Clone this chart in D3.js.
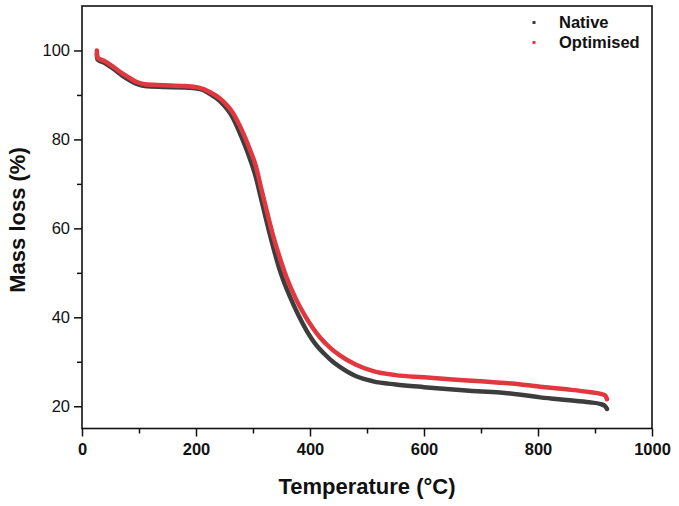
<!DOCTYPE html>
<html>
<head>
<meta charset="utf-8">
<script src="https://cdn.jsdelivr.net/npm/d3@7"></script>
<style>
  html, body { margin: 0; padding: 0; background: #fff; }
  svg { display: block; font-family: "Liberation Sans", Arial, sans-serif; }
</style>
</head>
<body>
<svg id="chart" width="679" height="506"></svg>
<script>
// ---- data ----
const seriesNames = ["Native", "Optimised"];
const seriesColors = ["#3d3d3d", "#e0383e"];

const nativeTemp = [26, 27, 40, 55, 70, 85, 96, 110, 142, 180, 207, 225, 242, 265, 280, 295, 305, 314, 324, 335, 347, 353, 365, 380, 395, 410, 425, 440, 453, 480, 511, 550, 600, 628, 680, 733, 770, 804, 850, 890, 910, 918, 921];
const nativeMass = [99.2, 98.0, 97.2, 95.9, 94.4, 93.2, 92.5, 92.0, 91.8, 91.7, 91.3, 90.2, 88.6, 84.8, 80.5, 75.5, 71.5, 66.8, 61.5, 56.0, 50.6, 48.4, 44.6, 40.4, 36.8, 33.9, 31.8, 30.0, 28.8, 26.8, 25.6, 24.9, 24.3, 24.0, 23.5, 23.1, 22.6, 22.0, 21.4, 20.9, 20.5, 20.0, 19.4];

const optTemp = [26, 27, 40, 55, 70, 85, 96, 110, 142, 180, 207, 225, 242, 265, 280, 295, 305, 314, 324, 335, 347, 360, 375, 390, 405, 418, 435, 453, 480, 511, 550, 600, 650, 700, 733, 770, 804, 850, 890, 910, 918, 921];
const optMass = [100.0, 98.4, 97.6, 96.3, 94.9, 93.7, 92.9, 92.4, 92.2, 92.0, 91.6, 90.6, 89.2, 85.9, 82.2, 77.6, 74.0, 69.2, 64.0, 58.5, 53.4, 48.6, 44.2, 40.6, 37.6, 35.4, 33.2, 31.4, 29.4, 27.9, 27.0, 26.5, 26.0, 25.6, 25.3, 24.9, 24.4, 23.8, 23.2, 22.8, 22.4, 21.6];

const xMajorTicks = [0, 200, 400, 600, 800, 1000];
const xMinorTicks = [100, 300, 500, 700, 900];
const yMajorTicks = [20, 40, 60, 80, 100];
const yMinorTicks = [30, 50, 70, 90];

const xTitle = "Temperature (°C)";
const yTitle = "Mass loss (%)";

// ---- layout ----
const svg = d3.select("#chart");
const L = 82, R = 652, T = 6, B = 428.5;

const x = d3.scaleLinear().domain([0, 1000]).range([L, R]);
const y = d3.scaleLinear().domain([15, 110]).range([B, T]);

const series = [
  { name: seriesNames[0], color: seriesColors[0], data: nativeTemp.map((t, i) => [t, nativeMass[i]]) },
  { name: seriesNames[1], color: seriesColors[1], data: optTemp.map((t, i) => [t, optMass[i]]) }
];

const line = d3.line()
  .x(d => x(d[0]))
  .y(d => y(d[1]))
  .curve(d3.curveMonotoneX);

const plot = svg.append("g");
series.forEach(s => {
  plot.append("path")
    .datum(s.data)
    .attr("fill", "none")
    .attr("stroke", s.color)
    .attr("stroke-width", 4.5)
    .attr("stroke-linecap", "round")
    .attr("stroke-linejoin", "round")
    .attr("d", line);
});

// frame
svg.append("rect")
  .attr("x", L).attr("y", T)
  .attr("width", R - L).attr("height", B - T)
  .attr("fill", "none").attr("stroke", "#111").attr("stroke-width", 1.6);

// x axis
const xAxis = svg.append("g").attr("transform", `translate(0,${B})`)
  .call(d3.axisBottom(x).tickValues(xMajorTicks).tickSize(8).tickPadding(7).tickFormat(d3.format("d")));
xAxis.select(".domain").remove();
xAxis.selectAll("line").attr("stroke", "#111").attr("stroke-width", 1.5);
xAxis.selectAll("text").attr("font-size", 16.5).attr("font-weight", "bold").attr("fill", "#111")
  .attr("font-family", '"Liberation Sans", Arial, sans-serif');
svg.append("g").attr("transform", `translate(0,${B})`)
  .call(d3.axisBottom(x).tickValues(xMinorTicks).tickSize(5).tickFormat(""))
  .call(g => g.select(".domain").remove())
  .selectAll("line").attr("stroke", "#111").attr("stroke-width", 1.5);

// y axis
const yAxis = svg.append("g").attr("transform", `translate(${L},0)`)
  .call(d3.axisLeft(y).tickValues(yMajorTicks).tickSize(8).tickPadding(4).tickFormat(d3.format("d")));
yAxis.select(".domain").remove();
yAxis.selectAll("line").attr("stroke", "#111").attr("stroke-width", 1.5);
yAxis.selectAll("text").attr("font-size", 16.5).attr("fill", "#111")
  .attr("font-family", '"Liberation Sans", Arial, sans-serif');
svg.append("g").attr("transform", `translate(${L},0)`)
  .call(d3.axisLeft(y).tickValues(yMinorTicks).tickSize(5).tickFormat(""))
  .call(g => g.select(".domain").remove())
  .selectAll("line").attr("stroke", "#111").attr("stroke-width", 1.5);

// axis titles
svg.append("text")
  .attr("x", (L + R) / 2).attr("y", 494)
  .attr("text-anchor", "middle")
  .attr("font-size", 22).attr("font-weight", "bold").attr("fill", "#111")
  .text(xTitle);

svg.append("text")
  .attr("transform", `translate(25,220) rotate(-90)`)
  .attr("text-anchor", "middle")
  .attr("font-size", 22).attr("font-weight", "bold").attr("fill", "#111")
  .text(yTitle);

// legend
const legend = svg.append("g");
series.forEach((s, i) => {
  const ly = 22.5 + i * 20;
  legend.append("rect")
    .attr("x", 532.5).attr("y", ly - 1.5).attr("width", 3).attr("height", 3)
    .attr("fill", s.color);
  legend.append("text")
    .attr("x", 559).attr("y", ly + 5)
    .attr("font-size", 16.5).attr("font-weight", "bold").attr("fill", "#111")
    .text(s.name);
});
</script>
</body>
</html>
